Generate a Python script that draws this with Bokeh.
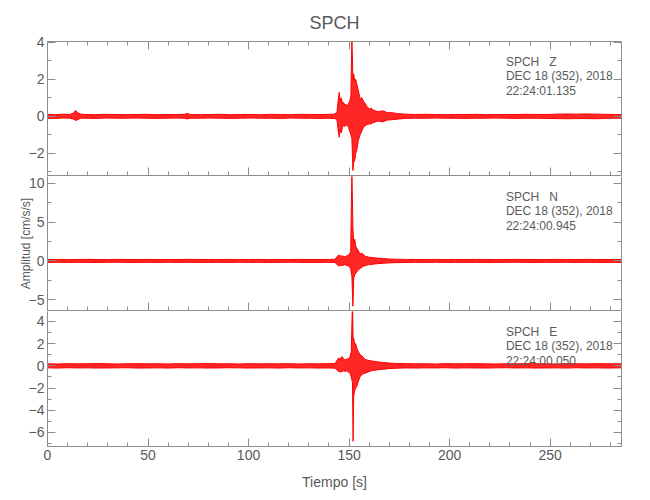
from bokeh.plotting import figure
from bokeh.layouts import column
from bokeh.models import Range1d, LinearAxis, SingleIntervalTicker, Label, CustomJSTickFormatter
from bokeh.embed import file_html
from bokeh.resources import INLINE

# ---------------- data (amplitude envelopes) ----------------
title_text = "SPCH"
x_label = "Tiempo [s]"
y_label = "Amplitud [cm/s/s]"
t_max = 285.5

# Z component
z_pre_t = [0, 4, 8, 11, 13, 14, 15, 16.5, 19, 24, 29, 34, 39, 44, 49, 54, 59, 64, 68, 69.5,
           71, 76, 81, 86, 91, 96, 101, 106, 111, 116, 121, 126, 131, 136, 140, 143]
z_pre_hi = [0.11, 0.09, 0.12, 0.10, 0.18, 0.32, 0.20, 0.12, 0.10, 0.09, 0.11, 0.10, 0.09, 0.10, 0.11,
            0.09, 0.10, 0.10, 0.11, 0.16, 0.10, 0.09, 0.10, 0.11, 0.09, 0.10, 0.10, 0.09, 0.11, 0.10,
            0.09, 0.11, 0.10, 0.10, 0.11, 0.12]
z_pre_lo = [-0.10, -0.11, -0.09, -0.10, -0.15, -0.22, -0.18, -0.10, -0.10, -0.11, -0.09, -0.10, -0.10,
            -0.09, -0.10, -0.11, -0.10, -0.09, -0.10, -0.14, -0.10, -0.10, -0.09, -0.10, -0.11, -0.10,
            -0.09, -0.10, -0.10, -0.11, -0.09, -0.10, -0.10, -0.11, -0.10, -0.12]
z_ev_t = [144.0, 144.6, 145.1, 145.6, 146.1, 146.7, 147.3, 147.9, 148.5, 149.1, 149.7, 150.3, 150.9,
          151.4, 151.9, 152.3, 152.8, 153.3, 153.8, 154.6, 155.5, 156.4, 157.2, 158.0, 159.0, 160.2,
          161.0, 161.8, 163.0, 164.5, 166.8, 169.0, 171.5, 174.0]
z_ev_hi = [0.25, 0.9, 1.3, 0.8, 1.0, 0.7, 0.75, 0.6, 0.65, 0.55, 0.7, 0.8, 1.1, 4.3, 2.0, 2.3, 1.9,
           2.0, 1.77, 1.4, 0.95, 1.0, 0.8, 0.7, 0.5, 0.4, 0.45, 0.35, 0.3, 0.25, 0.3, 0.2, 0.2, 0.15]
z_ev_lo = [-0.2, -0.8, -1.13, -0.7, -0.9, -0.6, -0.5, -0.55, -0.45, -0.5, -0.6, -0.8, -1.0, -1.2,
           -2.93, -2.5, -2.4, -2.0, -1.85, -1.3, -1.0, -0.78, -0.6, -0.5, -0.45, -0.4, -0.42, -0.35,
           -0.3, -0.25, -0.3, -0.2, -0.18, -0.15]
post_t = [178, 183, 188, 193, 198, 203, 208, 213, 218, 223, 228, 233, 238, 243, 248, 253, 258, 263,
          268, 273, 278, 282, 285.5]
z_post_hi = [0.12, 0.10, 0.11, 0.10, 0.09, 0.10, 0.10, 0.11, 0.09, 0.10, 0.10, 0.10, 0.11, 0.10, 0.10,
             0.12, 0.13, 0.12, 0.13, 0.12, 0.11, 0.10, 0.10]
z_post_lo = [-0.11, -0.10, -0.10, -0.09, -0.10, -0.10, -0.11, -0.10, -0.10, -0.09, -0.10, -0.11, -0.10,
             -0.10, -0.11, -0.12, -0.13, -0.12, -0.12, -0.13, -0.11, -0.10, -0.10]

# N component
pre_t = [0, 5, 10, 15, 20, 25, 30, 35, 40, 45, 50, 55, 60, 65, 70, 75, 80, 85, 90, 95, 100, 105,
         110, 115, 120, 125, 130, 135, 140, 143]
n_pre_hi = [0.18, 0.20, 0.17, 0.19, 0.21, 0.18, 0.17, 0.20, 0.19, 0.18, 0.20, 0.17, 0.19, 0.18, 0.21,
            0.19, 0.18, 0.17, 0.20, 0.19, 0.18, 0.20, 0.17, 0.19, 0.18, 0.20, 0.19, 0.18, 0.20, 0.22]
n_pre_lo = [-0.19, -0.17, -0.20, -0.18, -0.19, -0.20, -0.18, -0.17, -0.20, -0.19, -0.18, -0.20, -0.17,
            -0.19, -0.18, -0.20, -0.19, -0.18, -0.20, -0.17, -0.19, -0.18, -0.20, -0.19, -0.17, -0.18,
            -0.20, -0.19, -0.18, -0.21]
n_ev_t = [144.8, 145.3, 146.0, 146.8, 147.6, 148.4, 149.2, 150.0, 150.8, 151.4, 151.9, 152.3, 152.8,
          153.3, 153.8, 154.6, 155.5, 156.4, 157.2, 158.0, 159.5, 161.0, 162.5, 164.5, 167.0, 170.0, 173.0]
n_ev_hi = [0.77, 0.7, 0.6, 0.65, 0.55, 0.6, 0.7, 0.8, 1.2, 11.5, 4.3, 2.3, 2.8, 1.9, 1.66, 1.3, 0.9,
           1.0, 0.8, 0.6, 0.5, 0.45, 0.4, 0.35, 0.3, 0.25, 0.22]
n_ev_lo = [-0.66, -0.6, -0.55, -0.6, -0.5, -0.55, -0.6, -0.7, -1.0, -2.0, -5.85, -2.2, -1.8, -1.6,
           -1.4, -1.2, -0.95, -0.8, -0.7, -0.6, -0.5, -0.45, -0.4, -0.35, -0.3, -0.25, -0.22]
n_post_hi = [0.20, 0.19, 0.18, 0.20, 0.17, 0.19, 0.18, 0.20, 0.19, 0.17, 0.18, 0.20, 0.19, 0.18, 0.17,
             0.20, 0.19, 0.18, 0.20, 0.19, 0.18, 0.19, 0.18]
n_post_lo = [-0.20, -0.18, -0.19, -0.17, -0.20, -0.18, -0.19, -0.18, -0.20, -0.19, -0.18, -0.17, -0.19,
             -0.20, -0.18, -0.19, -0.17, -0.20, -0.18, -0.19, -0.20, -0.18, -0.19]

# E component
e_ev_t = [144.8, 145.5, 146.5, 147.3, 148.1, 148.9, 149.7, 150.5, 151.1, 151.7, 152.0, 152.3, 152.8,
          153.3, 153.8, 154.6, 155.5, 156.4, 157.2, 158.0, 159.5, 161.0, 162.5, 164.5, 167.0, 170.0, 173.0]
e_pre_hi = [0.19, 0.17, 0.20, 0.18, 0.19, 0.21, 0.18, 0.17, 0.19, 0.20, 0.18, 0.19, 0.17, 0.20, 0.18,
            0.19, 0.21, 0.18, 0.19, 0.17, 0.20, 0.18, 0.19, 0.18, 0.20, 0.17, 0.19, 0.18, 0.20, 0.21]
e_pre_lo = [-0.18, -0.20, -0.17, -0.19, -0.18, -0.20, -0.19, -0.18, -0.17, -0.20, -0.19, -0.18, -0.20,
            -0.17, -0.19, -0.18, -0.20, -0.19, -0.17, -0.18, -0.20, -0.19, -0.18, -0.20, -0.17, -0.19,
            -0.18, -0.20, -0.19, -0.21]
e_ev_hi = [0.7, 0.6, 0.85, 0.6, 0.55, 0.6, 0.65, 0.8, 1.3, 6.0, 2.4, 2.5, 1.9, 2.0, 1.6, 1.3, 1.0, 0.9,
           0.75, 0.57, 0.5, 0.45, 0.4, 0.35, 0.3, 0.25, 0.22]
e_ev_lo = [-0.5, -0.55, -0.5, -0.45, -0.5, -0.45, -0.55, -0.7, -1.0, -1.5, -6.8, -2.77, -2.2, -2.0,
           -1.86, -1.4, -0.96, -0.8, -0.7, -0.66, -0.55, -0.45, -0.4, -0.35, -0.3, -0.25, -0.22]
e_post_hi = [0.20, 0.18, 0.19, 0.17, 0.20, 0.18, 0.19, 0.20, 0.18, 0.17, 0.19, 0.18, 0.20, 0.19, 0.18,
             0.17, 0.20, 0.19, 0.18, 0.20, 0.19, 0.18, 0.19]
e_post_lo = [-0.19, -0.20, -0.18, -0.19, -0.17, -0.20, -0.18, -0.19, -0.20, -0.18, -0.17, -0.19, -0.18,
             -0.20, -0.19, -0.18, -0.20, -0.17, -0.19, -0.18, -0.20, -0.19, -0.18]

# panel settings (y ranges, tick steps, header texts)
z_range = (-3.2, 4.05)
n_range = (-6.4, 10.9)
e_range = (-7.27, 4.9)
z_info = ["SPCH\u00a0\u00a0\u00a0Z", "DEC 18 (352), 2018", "22:24:01.135"]
n_info = ["SPCH\u00a0\u00a0\u00a0N", "DEC 18 (352), 2018", "22:24:00.945"]
e_info = ["SPCH\u00a0\u00a0\u00a0E", "DEC 18 (352), 2018", "22:24:00.050"]

# ---------------- styling ----------------
FONT = "'Liberation Sans', sans-serif"
AX = "#8c8c8c"
TXT = "#5a5a5a"
RED = "#ff0000"
W = 625
LEFT = 47
RIGHT = 4
BLANK = CustomJSTickFormatter(code="return ''")


def axis(p, loc, interval, minor, labels, label_text=None):
    ax = LinearAxis(
        ticker=SingleIntervalTicker(interval=interval, num_minor_ticks=minor),
        axis_line_color=AX, major_tick_line_color=AX, minor_tick_line_color=AX,
        major_tick_in=8, major_tick_out=0, minor_tick_in=4, minor_tick_out=0,
        major_label_text_font=FONT, major_label_text_color=TXT,
        major_label_text_font_size="14px" if labels else "0px",
        major_label_standoff=3 if labels else 0,
    )
    if not labels:
        ax.formatter = BLANK
    if label_text:
        ax.axis_label = label_text
        ax.axis_label_text_font = FONT
        ax.axis_label_text_font_style = "normal"
        ax.axis_label_text_color = TXT
        if loc == "left":
            ax.axis_label_text_font_size = "12px"
            ax.axis_label_standoff = -7
        else:
            ax.axis_label_text_font_size = "14px"
            ax.axis_label_standoff = 11
    p.add_layout(ax, loc)
    return ax


def panel(t, hi, lo, yr, yint, yminor, frame_h, top, bottom, info,
          xlabels=False, title=None, ylab=None, top_axis=False):
    p = figure(width=W, height=frame_h + top + bottom,
               x_range=Range1d(0, t_max), y_range=Range1d(*yr),
               output_backend="svg", toolbar_location=None,
               x_axis_location=None, y_axis_location=None,
               min_border_left=LEFT, min_border_right=RIGHT,
               min_border_top=top, min_border_bottom=bottom)
    p.outline_line_color = None
    p.grid.visible = False
    if title:
        p.title.text = title
        p.title.align = "center"
        p.title.text_font = FONT
        p.title.text_font_style = "normal"
        p.title.text_font_size = "18px"
        p.title.text_color = TXT
        p.title.standoff = 17
    p.varea(x=t, y1=lo, y2=hi, fill_color=RED, fill_alpha=0.85)
    p.line(t, hi, line_color=RED, line_width=1)
    p.line(t, lo, line_color=RED, line_width=1)
    axis(p, "left", yint, yminor, True, ylab)
    axis(p, "right", yint, yminor, False)
    axis(p, "below", 50, 5, xlabels, x_label if xlabels else None)
    if top_axis:
        axis(p, "above", 50, 5, False)
    ppu = frame_h / (yr[1] - yr[0])
    for i, line in enumerate(info):
        p.add_layout(Label(x=228, y=yr[1] - (13 + 14.5 * i) / ppu, text=line,
                           text_baseline="top", text_align="left",
                           text_font=FONT, text_font_size="12px", text_color=TXT))
    return p


pz = panel(z_pre_t + z_ev_t + post_t, z_pre_hi + z_ev_hi + z_post_hi, z_pre_lo + z_ev_lo + z_post_lo,
           z_range, 2, 2, 134, 41, 1, z_info, title=title_text, top_axis=True)
pn = panel(pre_t + n_ev_t + post_t, n_pre_hi + n_ev_hi + n_post_hi, n_pre_lo + n_ev_lo + n_post_lo,
           n_range, 5, 2, 134, 0, 1, n_info, ylab=y_label)
pe = panel(pre_t + e_ev_t + post_t, e_pre_hi + e_ev_hi + e_post_hi, e_pre_lo + e_ev_lo + e_post_lo,
           e_range, 2, 2, 135, 0, 48, e_info, xlabels=True)

layout = column(pz, pn, pe, spacing=0)
open("out.html", "w").write(file_html(layout, INLINE))
